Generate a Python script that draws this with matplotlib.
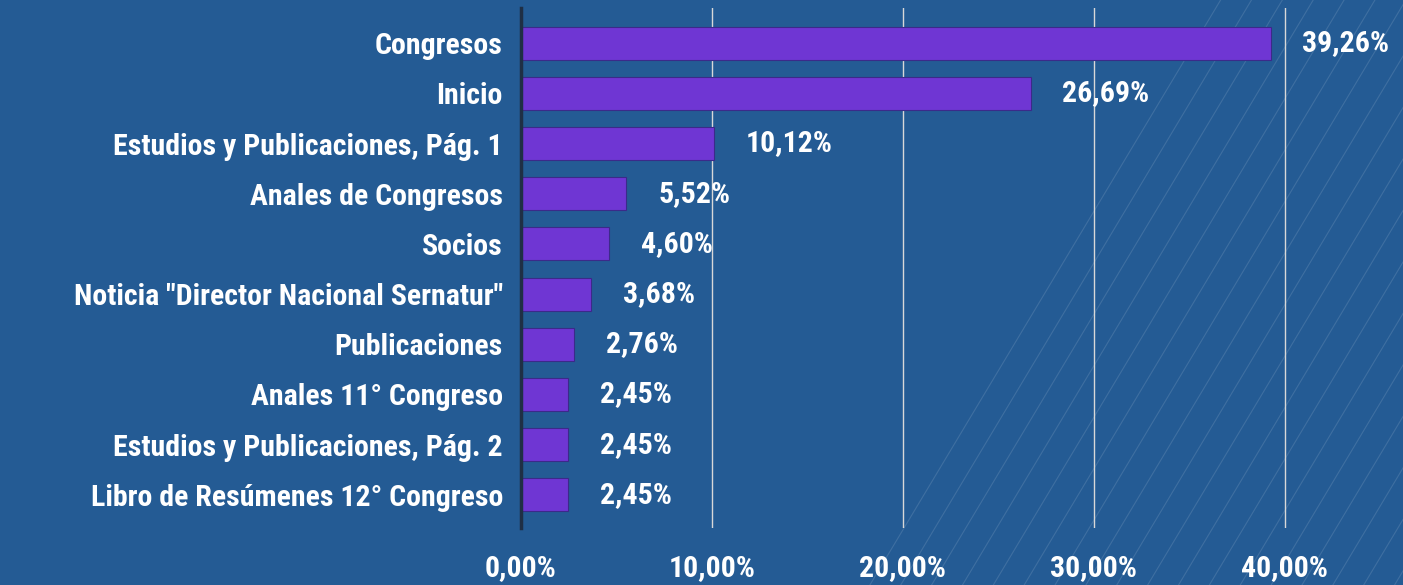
import matplotlib
matplotlib.use("Agg")
import matplotlib.pyplot as plt
from matplotlib.lines import Line2D

categories = ["Congresos", "Inicio", "Estudios y Publicaciones, Pág. 1",
              "Anales de Congresos", "Socios", 'Noticia "Director Nacional Sernatur"',
              "Publicaciones", "Anales 11° Congreso", "Estudios y Publicaciones, Pág. 2",
              "Libro de Resúmenes 12° Congreso"]
values = [39.26, 26.69, 10.12, 5.52, 4.60, 3.68, 2.76, 2.45, 2.45, 2.45]
xticks = [0, 10, 20, 30, 40]

bg = "#245b94"
bar_color = "#6f36d3"
plt.rcParams['font.family'] = ['Roboto Condensed', 'DejaVu Sans']

fig = plt.figure(figsize=(14.03, 5.85), dpi=100, facecolor=bg)

# faint diagonal stripes in the background
for i in range(22):
    x0 = 0.62 + i * 0.022
    fig.add_artist(Line2D([x0, x0 + 0.25], [0, 1.0], transform=fig.transFigure,
                          color="white", alpha=0.12, lw=0.8, zorder=0))

ax = fig.add_axes([521 / 1403, 57 / 585, 882 / 1403, 520 / 585])
ax.set_facecolor("none")
y = list(range(len(categories)))
ax.barh(y, values, height=0.66, color=bar_color, edgecolor="#3b2a8a", linewidth=0.8, zorder=3)
ax.set_ylim(9.66, -0.70)
ax.set_xlim(0, 46.2)

fs = 21.5
for yi, v in zip(y, values):
    ax.annotate(f"{v:.2f}%".replace(".", ","), (v, yi), xytext=(23, 0),
                textcoords="offset points", va="center", ha="left",
                color="white", fontsize=fs, fontweight="bold")

ax.set_yticks(y)
ax.set_yticklabels(categories, color="white", fontsize=fs, fontweight="bold")
ax.set_xticks(xticks)
ax.set_xticklabels([f"{t:.2f}%".replace(".", ",") for t in xticks],
                   color="white", fontsize=fs, fontweight="bold")
ax.tick_params(axis="both", length=0)
ax.tick_params(axis="x", pad=19)
ax.tick_params(axis="y", pad=13)
ax.grid(axis="x", color="#d8d8d8", linewidth=1, zorder=1)
for s in ["top", "right", "bottom"]:
    ax.spines[s].set_visible(False)
ax.spines["left"].set_color("#1f2f45")
ax.spines["left"].set_linewidth(2.5)
ax.spines["left"].set_zorder(4)

fig.savefig("out.png", dpi=100, facecolor=bg)
